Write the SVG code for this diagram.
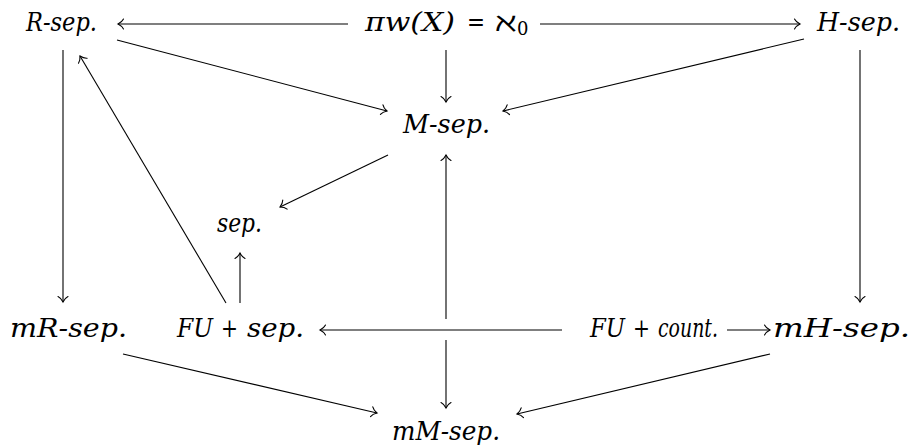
<svg xmlns="http://www.w3.org/2000/svg" width="916" height="447" viewBox="0 0 916 447">
<style>
text{font-family:"DejaVu Serif", "Liberation Serif", serif;font-size:26px;fill:#000}
.i{font-style:italic}
.u{font-style:normal}
.c line{stroke:#000;stroke-width:1.1;fill:none;marker-end:url(#ah)}
</style>
<defs>
<marker id="ah" markerUnits="userSpaceOnUse" orient="auto" refX="0" refY="0" markerWidth="12" markerHeight="12" viewBox="-7 -6 8 12" overflow="visible">
<path d="M-5.5,-5 C-4,-2 -1,-0.5 0,0 C-1,0.5 -4,2 -5.5,5" fill="none" stroke="#000" stroke-width="1.1" stroke-linecap="round"/>
</marker>
</defs>
<rect width="916" height="447" fill="#fff"/>
<g id="R"><text class="i" x="26" y="31" textLength="71" lengthAdjust="spacingAndGlyphs">R-sep.</text></g>
<g id="PI">
<text class="i" x="365" y="31" textLength="90" lengthAdjust="spacingAndGlyphs">πw(X)</text>
<text class="u" x="467" y="31" textLength="18" lengthAdjust="spacingAndGlyphs">=</text>
<text class="u" x="495" y="31" textLength="22" lengthAdjust="spacingAndGlyphs">ℵ</text>
<text class="u" x="517" y="35" style="font-size:18px">0</text>
</g>
<g id="H"><text class="i" x="817" y="31" textLength="83" lengthAdjust="spacingAndGlyphs">H-sep.</text></g>
<g id="M"><text class="i" x="403" y="133" textLength="87" lengthAdjust="spacingAndGlyphs">M-sep.</text></g>
<g id="S"><text class="i" x="217" y="232" textLength="45" lengthAdjust="spacingAndGlyphs">sep.</text></g>
<g id="mR"><text class="i" x="10" y="337" textLength="117" lengthAdjust="spacingAndGlyphs">mR-sep.</text></g>
<g id="FUS">
<text class="i" x="177" y="337" textLength="36" lengthAdjust="spacingAndGlyphs">FU</text>
<text class="u" x="221" y="337" textLength="17" lengthAdjust="spacingAndGlyphs">+</text>
<text class="i" x="247" y="337" textLength="57" lengthAdjust="spacingAndGlyphs">sep.</text>
</g>
<g id="FUC">
<text class="i" x="590" y="337" textLength="35" lengthAdjust="spacingAndGlyphs">FU</text>
<text class="u" x="633" y="337" textLength="17" lengthAdjust="spacingAndGlyphs">+</text>
<text class="i" x="658" y="337" textLength="60" lengthAdjust="spacingAndGlyphs">count.</text>
</g>
<g id="mH"><text class="i" x="773" y="337" textLength="137" lengthAdjust="spacingAndGlyphs">mH-sep.</text></g>
<g id="mM"><text class="i" x="392" y="440" textLength="108" lengthAdjust="spacingAndGlyphs">mM-sep.</text></g>
<g id="connectors" class="c">
<line x1="348" y1="24" x2="118" y2="24"/>
<line x1="540" y1="24" x2="800" y2="24"/>
<line x1="446" y1="50" x2="446" y2="102"/>
<line x1="117" y1="40" x2="387" y2="111"/>
<line x1="804" y1="39" x2="503" y2="111"/>
<line x1="63" y1="50" x2="63" y2="302"/>
<line x1="860" y1="50" x2="860" y2="302"/>
<line x1="388" y1="155" x2="280" y2="207"/>
<line x1="226" y1="303" x2="80" y2="56"/>
<line x1="240" y1="303" x2="240" y2="253"/>
<line x1="562" y1="330" x2="320" y2="330"/>
<line x1="446" y1="319" x2="446" y2="155"/>
<line x1="446" y1="340" x2="446" y2="408"/>
<line x1="727" y1="330" x2="770" y2="330"/>
<line x1="123" y1="354" x2="377" y2="413"/>
<line x1="770" y1="354" x2="517" y2="414"/>
</g>
</svg>
